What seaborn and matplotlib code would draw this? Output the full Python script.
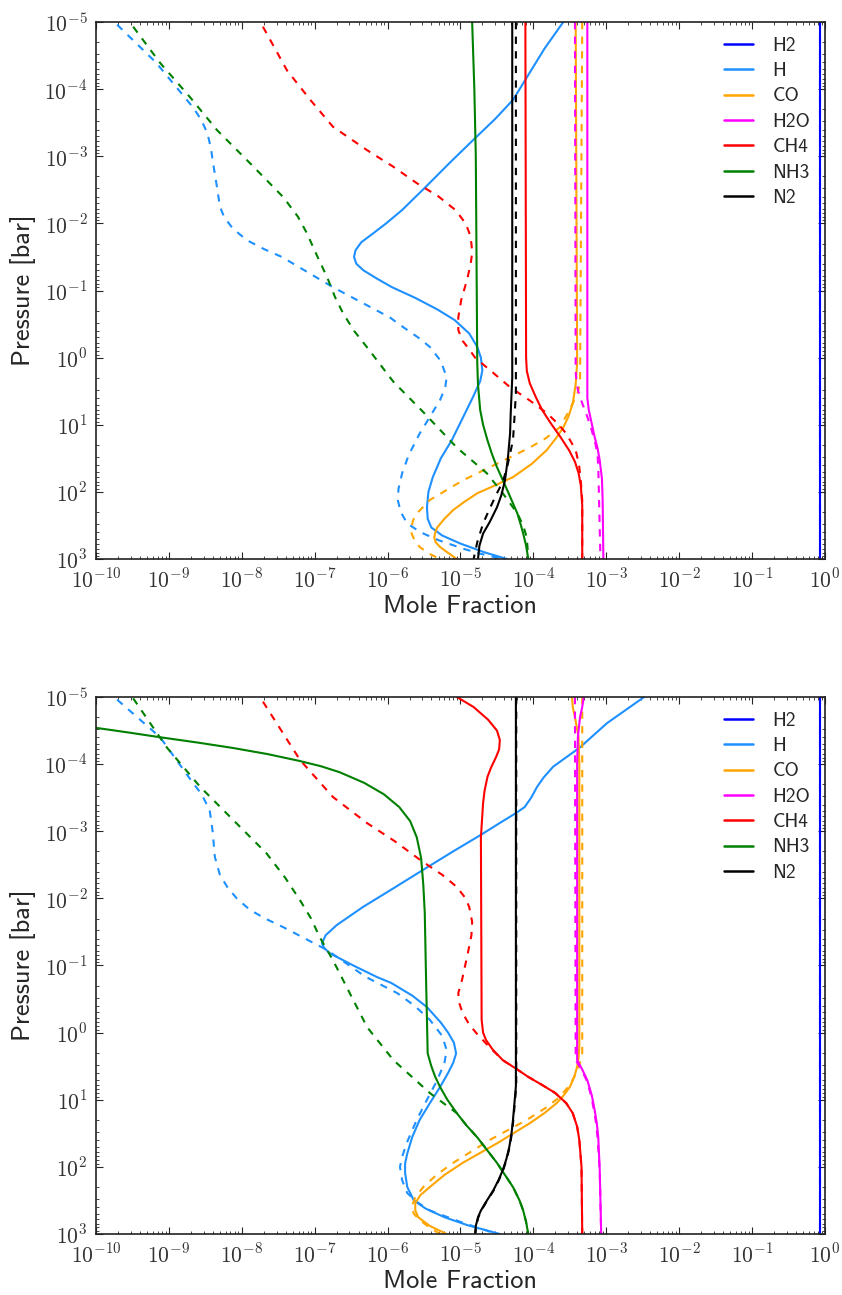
import numpy as np
import pandas as pd
import matplotlib
matplotlib.use("Agg")
import matplotlib.pyplot as plt
from matplotlib.lines import Line2D
from matplotlib.ticker import LogLocator, NullFormatter, FuncFormatter
import seaborn as sns

# species / colours (legend order)
species = ["H2", "H", "CO", "H2O", "CH4", "NH3", "N2"]
colors = ["blue", "dodgerblue", "orange", "magenta", "red", "green", "black"]

# all curves as (log10 P [bar], log10 mole fraction)
h2_prof = [(-5.0, -0.068), (3.0, -0.068)]

# ---- top panel ----
t_h_solid = [(-5.0, -3.59), (-4.6, -3.85), (-4.14, -4.11), (-3.84, -4.28), (-3.55, -4.53),
             (-3.27, -4.80), (-2.9, -5.15), (-2.53, -5.49), (-2.2, -5.80), (-2.0, -6.02),
             (-1.85, -6.20), (-1.72, -6.36), (-1.60, -6.44), (-1.50, -6.46), (-1.40, -6.43),
             (-1.30, -6.33), (-1.18, -6.15), (-1.05, -5.94), (-0.89, -5.62), (-0.72, -5.32),
             (-0.56, -5.08), (-0.36, -4.88), (-0.16, -4.77), (0.0, -4.72), (0.19, -4.70),
             (0.35, -4.73), (0.59, -4.83), (0.9, -4.97), (1.23, -5.12), (1.5, -5.27),
             (1.78, -5.38), (2.0, -5.44), (2.23, -5.46), (2.4, -5.45), (2.53, -5.40),
             (2.65, -5.25), (2.77, -5.00), (2.9, -4.67), (3.0, -4.36)]
t_h_dashed = [(-4.96, -9.71), (-4.4, -9.18), (-3.73, -8.67), (-3.55, -8.56), (-3.34, -8.47),
              (-3.1, -8.42), (-2.94, -8.40), (-2.54, -8.34), (-2.25, -8.30), (-2.09, -8.24),
              (-1.92, -8.12), (-1.75, -7.93), (-1.62, -7.70), (-1.50, -7.45), (-1.05, -6.75),
              (-0.60, -5.97), (-0.45, -5.78), (-0.3, -5.58), (-0.16, -5.42), (0.05, -5.27),
              (0.29, -5.19), (0.45, -5.21), (0.63, -5.28), (0.9, -5.43), (1.13, -5.56),
              (1.45, -5.71), (1.72, -5.80), (1.95, -5.85), (2.12, -5.86), (2.3, -5.82),
              (2.47, -5.73), (2.6, -5.55), (2.72, -5.30), (2.85, -4.95), (2.92, -4.73),
              (3.0, -4.42)]
t_co_solid = [(-5.0, -3.42), (0.08, -3.40), (0.4, -3.42), (0.68, -3.46), (0.88, -3.52),
              (1.04, -3.59), (1.2, -3.69), (1.38, -3.82), (1.58, -4.02), (1.78, -4.28),
              (1.9, -4.52), (2.02, -4.77), (2.15, -4.95), (2.27, -5.10), (2.4, -5.22),
              (2.53, -5.32), (2.62, -5.35), (2.68, -5.36), (2.75, -5.34), (2.82, -5.28),
              (2.9, -5.18), (3.0, -5.05)]
t_co_dashed = [(-5.0, -3.33), (0.38, -3.36), (0.55, -3.40), (0.68, -3.46), (0.85, -3.54),
               (1.04, -3.64), (1.2, -3.83), (1.34, -4.05), (1.58, -4.50), (1.83, -4.97),
               (2.12, -5.42), (2.3, -5.58), (2.42, -5.65), (2.52, -5.67), (2.62, -5.67),
               (2.72, -5.63), (2.82, -5.56), (2.92, -5.43), (3.0, -5.28)]
t_h2o_solid = [(-5.0, -3.26), (0.4, -3.26), (0.6, -3.26), (0.78, -3.24), (0.98, -3.20),
               (1.18, -3.16), (1.35, -3.12), (1.53, -3.09), (1.8, -3.06), (2.12, -3.05),
               (3.0, -3.04)]
t_h2o_dashed = [(-5.0, -3.43), (0.2, -3.42), (0.35, -3.41), (0.48, -3.39), (0.68, -3.33),
                (0.88, -3.26), (1.08, -3.20), (1.28, -3.15), (1.45, -3.12), (1.63, -3.11),
                (3.0, -3.08)]
t_ch4_solid = [(-5.0, -4.11), (0.0, -4.10), (0.2, -4.09), (0.38, -4.05), (0.58, -3.97),
               (0.78, -3.88), (0.98, -3.76), (1.18, -3.63), (1.38, -3.51), (1.55, -3.43),
               (1.72, -3.38), (1.9, -3.35), (2.2, -3.33), (3.0, -3.33)]
t_ch4_dashed = [(-4.93, -7.71), (-4.28, -7.38), (-3.84, -7.06), (-3.44, -6.75), (-3.09, -6.28),
                (-2.85, -5.93), (-2.60, -5.60), (-2.4, -5.30), (-2.2, -5.07), (-2.0, -4.93),
                (-1.86, -4.88), (-1.7, -4.85), (-1.56, -4.84), (-1.4, -4.86), (-1.16, -4.91),
                (-0.86, -4.99), (-0.6, -5.03), (-0.41, -5.03), (-0.25, -4.97), (-0.11, -4.87),
                (0.0, -4.80), (0.2, -4.58), (0.44, -4.32), (0.63, -4.06), (0.83, -3.81),
                (1.0, -3.65), (1.13, -3.55), (1.28, -3.47), (1.42, -3.41), (1.63, -3.37),
                (1.83, -3.35), (2.12, -3.33), (3.0, -3.33)]
t_nh3_solid = [(-5.0, -4.84), (-4.0, -4.81), (-3.0, -4.79), (0.08, -4.77), (0.4, -4.76),
               (0.78, -4.73), (1.0, -4.69), (1.23, -4.63), (1.43, -4.57), (1.63, -4.50),
               (1.97, -4.36), (2.32, -4.22), (2.5, -4.17), (2.62, -4.14), (2.8, -4.10),
               (3.0, -4.07)]
t_nh3_dashed = [(-4.93, -9.49), (-4.39, -9.12), (-3.88, -8.71), (-3.39, -8.34), (-2.90, -7.89),
                (-2.39, -7.43), (-2.1, -7.23), (-1.86, -7.11), (-1.50, -6.96), (-1.20, -6.83),
                (-0.90, -6.72), (-0.66, -6.61), (-0.40, -6.46), (-0.11, -6.25), (0.36, -5.92),
                (0.80, -5.52), (1.34, -5.05), (1.72, -4.64), (2.02, -4.42), (2.32, -4.22),
                (2.5, -4.14), (2.68, -4.09), (3.0, -4.07)]
t_n2_solid = [(-5.0, -4.29), (0.3, -4.29), (0.8, -4.31), (1.13, -4.32), (1.5, -4.35),
              (1.83, -4.39), (2.05, -4.44), (2.23, -4.50), (2.45, -4.60), (2.62, -4.69),
              (2.8, -4.74), (3.0, -4.76)]
t_n2_dashed = [(-5.0, -4.24), (0.53, -4.24), (0.9, -4.26), (1.23, -4.28), (1.63, -4.36),
               (1.85, -4.42), (2.02, -4.50), (2.25, -4.60), (2.47, -4.69), (2.75, -4.77),
               (3.0, -4.82)]

# ---- bottom panel ----
b_h_solid = [(-5.0, -2.48), (-4.61, -2.99), (-4.25, -3.36), (-3.96, -3.73), (-3.8, -3.86),
             (-3.66, -3.95), (-3.5, -4.03), (-3.36, -4.12), (-3.27, -4.24), (-3.15, -4.42),
             (-2.94, -4.73), (-2.7, -5.10), (-2.46, -5.46), (-2.15, -5.92), (-1.87, -6.34),
             (-1.6, -6.70), (-1.45, -6.85), (-1.33, -6.90), (-1.26, -6.87), (-1.18, -6.79),
             (-1.0, -6.47), (-0.83, -6.15), (-0.74, -5.95), (-0.55, -5.66), (-0.38, -5.46),
             (-0.15, -5.27), (0.0, -5.17), (0.15, -5.09), (0.31, -5.06), (0.45, -5.10),
             (0.6, -5.17), (0.81, -5.28), (1.05, -5.42), (1.30, -5.56), (1.55, -5.66),
             (1.80, -5.73), (1.95, -5.76), (2.09, -5.76), (2.3, -5.73), (2.50, -5.64),
             (2.62, -5.48), (2.75, -5.22), (2.87, -4.90), (3.0, -4.46)]
b_h_dashed = [(-4.96, -9.71), (-4.40, -9.12), (-3.72, -8.67), (-3.55, -8.55), (-3.31, -8.44),
              (-3.0, -8.40), (-2.62, -8.37), (-2.35, -8.30), (-2.17, -8.20), (-2.0, -8.07),
              (-1.83, -7.89), (-1.7, -7.68), (-1.57, -7.43), (-1.23, -6.83), (-0.83, -6.30),
              (-0.59, -5.87), (-0.4, -5.63), (-0.19, -5.42), (0.05, -5.25), (0.26, -5.19),
              (0.45, -5.22), (0.71, -5.32), (1.0, -5.46), (1.30, -5.60), (1.65, -5.74),
              (1.85, -5.80), (2.00, -5.83), (2.2, -5.80), (2.39, -5.73), (2.52, -5.60),
              (2.65, -5.42), (2.82, -5.00), (3.0, -4.50)]
b_co_solid = [(-5.0, -3.47), (-4.85, -3.46), (-4.7, -3.43), (-4.4, -3.38), (-4.0, -3.37),
              (0.2, -3.37), (0.38, -3.38), (0.51, -3.40), (0.66, -3.44), (0.81, -3.50),
              (0.93, -3.58), (1.05, -3.68), (1.2, -3.85), (1.35, -4.05), (1.65, -4.50),
              (1.94, -4.97), (2.12, -5.22), (2.30, -5.42), (2.42, -5.55), (2.54, -5.62),
              (2.65, -5.62), (2.75, -5.58), (2.88, -5.42), (3.0, -5.19)]
b_co_dashed = [(-5.0, -3.33), (0.3, -3.33), (0.45, -3.36), (0.6, -3.41), (0.78, -3.50),
               (0.96, -3.64), (1.12, -3.83), (1.30, -4.09), (1.60, -4.60), (1.94, -5.10),
               (2.12, -5.33), (2.30, -5.51), (2.45, -5.62), (2.60, -5.67), (2.70, -5.64),
               (2.79, -5.56), (2.9, -5.43), (3.0, -5.28)]
b_h2o_solid = [(-5.0, -3.31), (-4.85, -3.33), (-4.7, -3.36), (-4.4, -3.39), (-4.0, -3.40),
               (0.41, -3.40), (0.55, -3.33), (0.71, -3.26), (0.93, -3.20), (1.15, -3.16),
               (1.35, -3.13), (1.56, -3.11), (2.05, -3.09), (3.0, -3.07)]
b_h2o_dashed = [(-5.0, -3.43), (0.41, -3.42), (0.55, -3.34), (0.71, -3.27), (0.93, -3.21),
                (1.15, -3.17), (1.35, -3.14), (1.56, -3.12), (2.05, -3.09), (3.0, -3.07)]
b_ch4_solid = [(-5.0, -5.05), (-4.85, -4.82), (-4.66, -4.62), (-4.5, -4.50), (-4.36, -4.46),
               (-4.22, -4.47), (-4.11, -4.51), (-3.95, -4.58), (-3.81, -4.63), (-3.6, -4.67),
               (-3.42, -4.69), (-2.91, -4.72), (-0.19, -4.71), (0.0, -4.69), (0.11, -4.65),
               (0.25, -4.56), (0.41, -4.42), (0.55, -4.22), (0.66, -4.07), (0.78, -3.88),
               (0.90, -3.70), (1.05, -3.55), (1.20, -3.46), (1.40, -3.40), (1.60, -3.37),
               (2.0, -3.34), (3.0, -3.33)]
b_ch4_dashed = [(-4.93, -7.71), (-4.06, -7.20), (-3.51, -6.75), (-3.12, -6.28), (-2.85, -5.90),
                (-2.57, -5.55), (-2.35, -5.25), (-2.17, -5.05), (-2.0, -4.93), (-1.87, -4.88),
                (-1.65, -4.84), (-1.45, -4.85), (-1.18, -4.90), (-0.78, -4.98), (-0.59, -5.03),
                (-0.45, -5.02), (-0.29, -4.97), (-0.12, -4.88), (0.01, -4.78), (0.22, -4.60),
                (0.41, -4.42), (0.55, -4.22), (0.66, -4.07), (0.78, -3.88), (0.90, -3.70),
                (1.05, -3.55), (1.20, -3.46), (1.40, -3.40), (1.60, -3.37), (2.0, -3.34),
                (3.0, -3.33)]
b_nh3_solid = [(-4.54, -10.0), (-4.47, -9.55), (-4.40, -9.12), (-4.32, -8.60), (-4.24, -8.12),
               (-4.15, -7.65), (-4.05, -7.22), (-3.97, -6.92), (-3.88, -6.66), (-3.72, -6.32),
               (-3.55, -6.05), (-3.36, -5.84), (-3.15, -5.69), (-2.91, -5.60), (-2.6, -5.54),
               (-2.2, -5.51), (-1.78, -5.49), (-0.68, -5.47), (0.31, -5.45), (0.5, -5.40),
               (0.65, -5.35), (0.81, -5.28), (1.0, -5.18), (1.20, -5.05), (1.38, -4.92),
               (1.56, -4.77), (1.94, -4.50), (2.30, -4.28), (2.5, -4.19), (2.65, -4.14),
               (2.82, -4.10), (3.0, -4.07)]
b_nh3_dashed = [(-4.98, -9.49), (-4.25, -9.03), (-3.66, -8.57), (-3.17, -8.12), (-2.67, -7.66),
                (-2.3, -7.40), (-1.97, -7.20), (-1.70, -7.05), (-1.42, -6.93), (-1.08, -6.75),
                (-0.59, -6.52), (-0.08, -6.28), (0.41, -5.92), (0.90, -5.42), (1.20, -5.05),
                (1.38, -4.92), (1.56, -4.77), (1.94, -4.50), (2.30, -4.28), (2.5, -4.19),
                (2.65, -4.14), (2.82, -4.10), (3.0, -4.07)]
b_n2_solid = [(-5.0, -4.24), (0.8, -4.24), (1.05, -4.26), (1.30, -4.28), (1.50, -4.30),
              (1.70, -4.33), (1.88, -4.37), (2.05, -4.42), (2.2, -4.48), (2.35, -4.55),
              (2.54, -4.66), (2.65, -4.72), (2.75, -4.76), (2.88, -4.79), (3.0, -4.80)]
b_n2_dashed = [(-5.0, -4.235), (0.8, -4.235), (1.05, -4.255), (1.30, -4.275), (1.50, -4.295),
               (1.70, -4.325), (1.88, -4.365), (2.05, -4.415), (2.2, -4.475), (2.35, -4.545),
               (2.54, -4.655), (2.65, -4.715), (2.75, -4.755), (2.88, -4.785), (3.0, -4.795)]

top_curves = {
    "H2": (h2_prof, h2_prof), "H": (t_h_solid, t_h_dashed), "CO": (t_co_solid, t_co_dashed),
    "H2O": (t_h2o_solid, t_h2o_dashed), "CH4": (t_ch4_solid, t_ch4_dashed),
    "NH3": (t_nh3_solid, t_nh3_dashed), "N2": (t_n2_solid, t_n2_dashed),
}
bot_curves = {
    "H2": (h2_prof, h2_prof), "H": (b_h_solid, b_h_dashed), "CO": (b_co_solid, b_co_dashed),
    "H2O": (b_h2o_solid, b_h2o_dashed), "CH4": (b_ch4_solid, b_ch4_dashed),
    "NH3": (b_nh3_solid, b_nh3_dashed), "N2": (b_n2_solid, b_n2_dashed),
}


def to_frame(curves):
    rows = []
    for sp in species:
        for kind, prof in zip(["solid", "dashed"], curves[sp]):
            for lp, lx in prof:
                rows.append({"species": sp, "kind": kind, "P": 10**lp, "X": 10**lx})
    return pd.DataFrame(rows)


def decade_label(v, pos):
    return r"$10^{%d}$" % int(round(np.log10(v)))


####figure settings####
sns.set_style("ticks")
plt.rcParams["font.family"] = ["cmss10", "DejaVu Sans"]
plt.rcParams["mathtext.fontset"] = "cm"
plt.rcParams["axes.linewidth"] = 1.2
plt.rcParams["axes.edgecolor"] = "#222222"
plt.rcParams["xtick.direction"] = "in"
plt.rcParams["ytick.direction"] = "in"
plt.rcParams["xtick.top"] = True
plt.rcParams["ytick.right"] = True
plt.rcParams["xtick.labelsize"] = 15.5
plt.rcParams["ytick.labelsize"] = 15.5
plt.rcParams["xtick.labelcolor"] = "#333333"
plt.rcParams["ytick.labelcolor"] = "#333333"

fig = plt.figure(figsize=(8.42, 12.95), dpi=100)
ax1 = fig.add_axes([0.1140, 0.5683, 0.8658, 0.4147])
ax2 = fig.add_axes([0.1140, 0.0471, 0.8658, 0.4147])

for ax, curves in [(ax1, top_curves), (ax2, bot_curves)]:
    ax.set_xscale("log")
    ax.set_yscale("log")
    sns.lineplot(data=to_frame(curves), x="X", y="P", hue="species", style="kind",
                 hue_order=species, palette=colors, style_order=["solid", "dashed"],
                 dashes={"solid": "", "dashed": (3.5, 3.5)}, sort=False, estimator=None,
                 lw=1.5, legend=False, ax=ax)
    ax.set_xlim(1e-10, 1)
    ax.set_ylim(1e3, 1e-5)
    ax.xaxis.set_major_locator(LogLocator(base=10, numticks=20))
    ax.yaxis.set_major_locator(LogLocator(base=10, numticks=20))
    ax.xaxis.set_minor_locator(LogLocator(base=10, subs=np.arange(2, 10), numticks=20))
    ax.yaxis.set_minor_locator(LogLocator(base=10, subs=np.arange(2, 10), numticks=20))
    ax.xaxis.set_major_formatter(FuncFormatter(decade_label))
    ax.yaxis.set_major_formatter(FuncFormatter(decade_label))
    ax.xaxis.set_minor_formatter(NullFormatter())
    ax.yaxis.set_minor_formatter(NullFormatter())
    ax.tick_params(which="major", length=5, width=0.8, pad=6)
    ax.tick_params(which="minor", length=2.5, width=0.6)
    ax.set_xlabel("Mole Fraction", fontsize=19, labelpad=3)
    ax.set_ylabel("Pressure [bar]", fontsize=19, labelpad=6)
    handles = [Line2D([], [], color=c, lw=1.8) for c in colors]
    ax.legend(handles, species, loc="upper right", frameon=False, fontsize=14,
              handlelength=1.5, handletextpad=1.0, labelspacing=0.38,
              borderaxespad=0.35)

plt.savefig("out.png", dpi=100)
